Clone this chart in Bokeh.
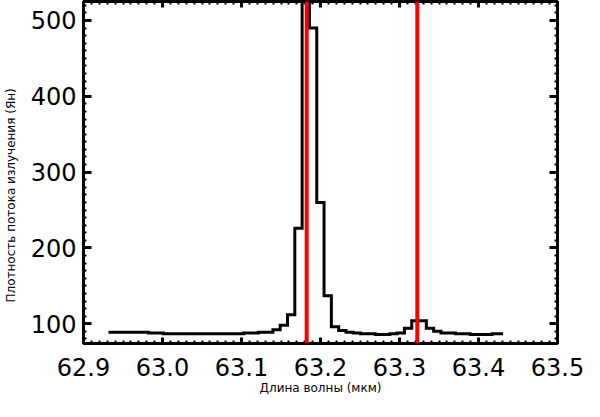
from bokeh.plotting import figure
from bokeh.models import Span, LinearAxis, SingleIntervalTicker, Range1d, PrintfTickFormatter, CustomJSTickFormatter
from bokeh.embed import file_html
from bokeh.resources import INLINE

# wavelength bin centres (micron)
wavelength = [62.9316, 62.9409, 62.9501, 62.9594, 62.9686, 62.9779, 62.9871, 62.9964,
              63.0056, 63.0149, 63.0241, 63.0334, 63.0426, 63.0519, 63.0611, 63.0704,
              63.0796, 63.0889, 63.0981, 63.1074, 63.1166, 63.1259, 63.1351, 63.1444,
              63.1536, 63.1629, 63.1721, 63.1814, 63.1906, 63.1999, 63.2091, 63.2184,
              63.2276, 63.2369, 63.2461, 63.2554, 63.2646, 63.2739, 63.2831, 63.2924,
              63.3016, 63.3109, 63.3201, 63.3294, 63.3386, 63.3479, 63.3571, 63.3664,
              63.3756, 63.3849, 63.3941, 63.4034, 63.4126, 63.4219, 63.4311]
# flux density (Jy)
flux = [89, 89, 89, 89, 89, 89, 88, 88,
        87, 87, 87, 87, 87, 87, 87, 87,
        87, 87, 87, 88, 88, 89, 89, 92,
        98, 112, 226, 580, 490, 260, 137, 96,
        91, 89, 88, 87, 87, 86, 86, 87,
        88, 94, 104, 104, 94, 90, 88, 88,
        87, 87, 86, 86, 86, 87, 87]
# marked line positions (micron)
line_positions = [63.1825, 63.3225]

x_title = "Длина волны (мкм)"
y_title = "Плотность потока излучения (Ян)"

x_start, x_end = 62.9, 63.5
y_start, y_end = 74, 525

p = figure(width=584, height=401,
           x_range=Range1d(x_start, x_end), y_range=Range1d(y_start, y_end),
           output_backend="svg", toolbar_location=None,
           x_axis_location=None, y_axis_location=None,
           min_border_left=79, min_border_right=27, min_border_top=1, min_border_bottom=58)
p.background_fill_color = "white"
p.border_fill_color = "white"
p.xgrid.visible = False
p.ygrid.visible = False
p.outline_line_color = "black"
p.outline_line_width = 3
p.outline_line_alpha = 1.0

FONT = "DejaVu Sans"
blank = CustomJSTickFormatter(code="return ''")

def style_axis(ax, major_in, show_labels):
    ax.axis_line_color = None
    ax.major_tick_in = major_in
    ax.major_tick_out = 0
    ax.minor_tick_in = 3
    ax.minor_tick_out = 0
    ax.major_tick_line_width = 3
    ax.minor_tick_line_width = 2
    ax.major_tick_line_color = "black"
    ax.minor_tick_line_color = "black"
    if show_labels:
        ax.major_label_text_font = FONT
        ax.major_label_text_font_size = "24px"
        ax.major_label_text_color = "black"
    else:
        ax.formatter = blank
        ax.major_label_standoff = 0

bottom = LinearAxis(ticker=SingleIntervalTicker(interval=0.1, num_minor_ticks=10),
                    formatter=PrintfTickFormatter(format="%.1f"))
style_axis(bottom, 6, True)
bottom.major_label_standoff = 14
bottom.axis_label = x_title
bottom.axis_label_text_font = FONT
bottom.axis_label_text_font_size = "12px"
bottom.axis_label_text_font_style = "normal"
bottom.axis_label_text_color = "black"
bottom.axis_label_standoff = 2

top = LinearAxis(ticker=SingleIntervalTicker(interval=0.1, num_minor_ticks=10))
style_axis(top, 6, False)

left = LinearAxis(ticker=SingleIntervalTicker(interval=100, num_minor_ticks=10),
                  formatter=PrintfTickFormatter(format="%d"))
style_axis(left, 8, True)
left.major_label_standoff = 7
# trailing no-break spaces push the centred title slightly lower, as in the original
left.axis_label = y_title + "\u00a0" * 12
left.axis_label_text_font = FONT
left.axis_label_text_font_size = "12px"
left.axis_label_text_font_style = "normal"
left.axis_label_text_color = "black"
left.axis_label_standoff = 10

right = LinearAxis(ticker=SingleIntervalTicker(interval=100, num_minor_ticks=10))
style_axis(right, 8, False)

p.add_layout(bottom, "below")
p.add_layout(top, "above")
p.add_layout(left, "left")
p.add_layout(right, "right")

p.step(wavelength, flux, mode="center", line_color="black", line_width=3, line_join="miter")

for loc in line_positions:
    p.add_layout(Span(location=loc, dimension="height", line_color="#ff0000", line_width=4))

open("out.html", "w").write(file_html(p, INLINE))
